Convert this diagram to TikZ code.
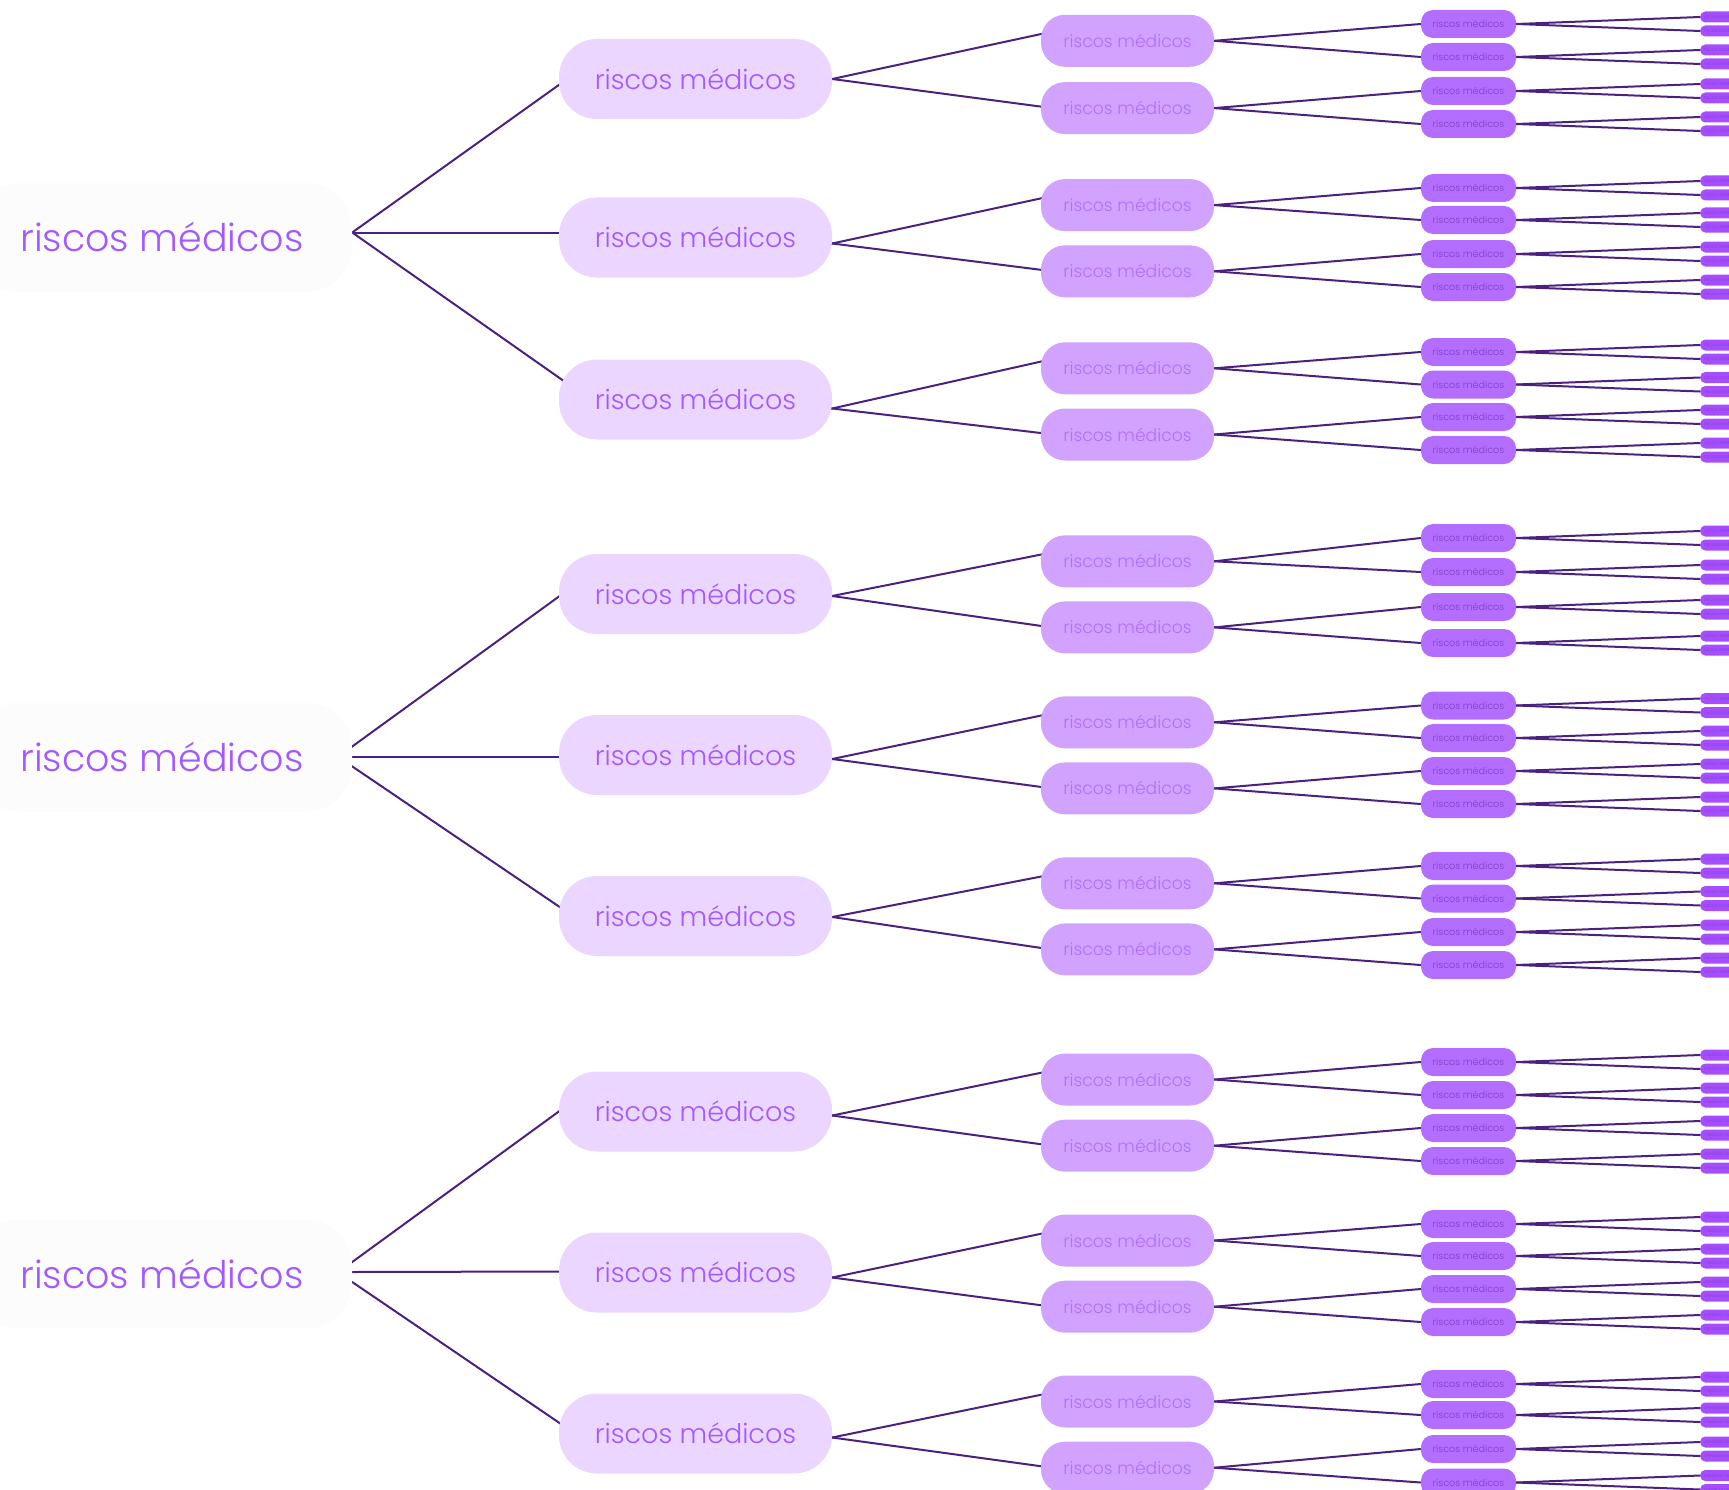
\documentclass[tikz,border=0pt]{standalone}
\usepackage{fontspec}
\IfFontExistsTF{Poppins Light}{\setmainfont{Poppins Light}}{\setmainfont{Poppins}}
\usetikzlibrary{backgrounds}

\definecolor{rootfill}{HTML}{FCFCFC}
\definecolor{roottext}{HTML}{A259FF}
\definecolor{onefill}{HTML}{EBD6FF}
\definecolor{twofill}{HTML}{D1A3FF}
\definecolor{twotext}{HTML}{B26EFF}
\definecolor{threefill}{HTML}{B46EFF}
\definecolor{threetext}{HTML}{7E3FC4}
\definecolor{leaffill}{HTML}{A64DFF}
\definecolor{leaftext}{HTML}{8040C8}
\definecolor{linkcol}{HTML}{4B2180}

\tikzset{
  rootbox/.style={fill=rootfill, text=roottext, rounded corners=46pt, inner sep=0pt,
    minimum width=380pt, minimum height=109pt, font=\fontsize{38}{38}\selectfont},
  onebox/.style={fill=onefill, text=roottext, rounded corners=38pt, inner sep=0pt,
    minimum width=273pt, minimum height=80pt, font=\fontsize{27}{27}\selectfont},
  twobox/.style={fill=twofill, text=twotext, rounded corners=24pt, inner sep=0pt,
    minimum width=173pt, minimum height=52pt, font=\fontsize{17.2}{17.2}\selectfont},
  threebox/.style={fill=threefill, text=threetext, rounded corners=12pt, inner sep=0pt,
    minimum width=95pt, minimum height=28pt, font=\fontsize{9.6}{9.6}\selectfont},
  leafbox/.style={fill=leaffill, text=leaftext, rounded corners=5pt, inner xsep=4pt,
    inner ysep=0pt, minimum height=11pt, anchor=west, font=\fontsize{4.6}{4.6}\selectfont},
  link/.style={draw=linkcol, line width=2pt},
  deeplink/.style={link, shorten <=-6pt, shorten >=-6pt},
  rootlink/.style={link, shorten <=-12pt, shorten >=-14pt},
}

\begin{document}
\begin{tikzpicture}[x=1pt, y=-1pt]

% Page frame (pixels, y downwards)
\useasboundingbox (0,0) rectangle (1729,1490);

% Root nodes
\foreach \g/\ry in {1/237.5, 2/757, 3/1274}
  \node[rootbox] (r\g) at (162,\ry) {riscos médicos};

% group/index/branch y/two second-level y/four third-level y/english?/exception leaf/
% shift of the root link at its start and at its end/drop of the branch links
\foreach \g/\i/\ly/\ta/\tb/\ya/\yb/\yc/\yd/\lang/\odd/\su/\eu/\lo in {
    1/1/79/40.8/108.1/24/57/91/124/0/0/5/-6/0,
    1/2/237.5/205.1/271.3/188/220/254/287/0/0/5/5/6,
    1/3/399.5/368.3/434.5/352/384.5/417/450/0/0/5/22/9,
    2/1/594/561.3/627.4/538/572/607/643/0/0/10.5/-2.6/2,
    2/2/755/722.3/788.4/705.5/738/771/804/0/0/0.5/-1.5/4,
    2/3/916/883.3/949.4/866/898.5/932/965/0/0/-9.4/9.6/1,
    3/1/1111.5/1079.5/1145.7/1062/1095/1128/1161/1/0/12/0/4,
    3/2/1272.5/1240.5/1306.7/1224/1256/1289/1322/1/8/2/1/5,
    3/3/1433.5/1401.5/1467.7/1384/1415/1449/1482.5/1/0/-8/11/4}{
  \node[onebox] (r\g-\i) at (695.5,\ly) {riscos médicos};
  \node[twobox] (r\g-\i-1) at (1127.5,\ta) {riscos médicos};
  \node[twobox] (r\g-\i-2) at (1127.5,\tb) {riscos médicos};
  \begin{scope}[on background layer]
    \draw[rootlink] ([yshift=\su pt]r\g.east) -- ([yshift=\eu pt]r\g-\i.west);
    \draw[deeplink] ([yshift=-\lo pt]r\g-\i.east) -- ([yshift=6.7pt]r\g-\i-1.west);
    \draw[deeplink] ([yshift=-\lo pt]r\g-\i.east) -- ([yshift=1.5pt]r\g-\i-2.west);
  \end{scope}
  \foreach \j/\k/\y in {1/1/\ya, 1/2/\yb, 2/1/\yc, 2/2/\yd}{
    \node[threebox] (r\g-\i-\j-\k) at (1468.5,\y) {riscos médicos};
    \draw[link] (r\g-\i-\j.east) -- (r\g-\i-\j-\k.west);
    % leaves
    \foreach \l/\dy in {1/-7, 2/7}{
      \pgfmathtruncatemacro\n{4*(\j-1)+2*(\k-1)+\l}
      \pgfmathtruncatemacro\isen{(\lang==1) && (\n!=\odd)}
      \ifnum\isen=1 \def\lbl{medical risks}\else\def\lbl{riscos médicos}\fi
      \node[leafbox] (r\g-\i-\j-\k-\l) at (1700,{\y+\dy}) {\lbl};
      \draw[link] (r\g-\i-\j-\k.east) -- (r\g-\i-\j-\k-\l.west);
    }
  }
}

\end{tikzpicture}
\end{document}
